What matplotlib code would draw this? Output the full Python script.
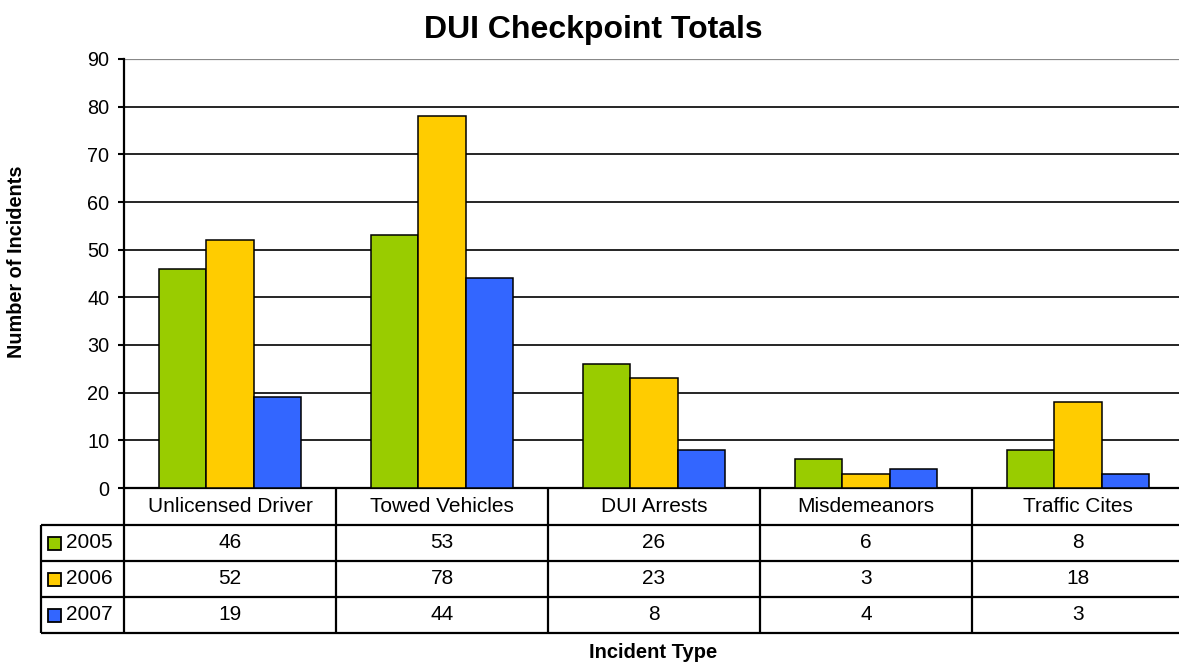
import matplotlib
matplotlib.use('Agg')
import matplotlib.pyplot as plt
import matplotlib.transforms as mtransforms
from matplotlib.patches import Rectangle
import numpy as np

plt.rcParams['font.family'] = ['Liberation Sans', 'DejaVu Sans']

categories = ['Unlicensed Driver', 'Towed Vehicles', 'DUI Arrests', 'Misdemeanors', 'Traffic Cites']
years = ['2005', '2006', '2007']
v2005 = [46, 53, 26, 6, 8]
v2006 = [52, 78, 23, 3, 18]
v2007 = [19, 44, 8, 4, 3]
series = [v2005, v2006, v2007]
colors = ['#99CC00', '#FFCC00', '#3366FF']
yticks = list(range(0, 91, 10))

W, H = 1179, 667
fig = plt.figure(figsize=(W / 100, H / 100), dpi=100)


def fx(px):
    return px / W


def fy(py):
    return 1 - py / H


ax = fig.add_axes([fx(124), fy(488), 1060 / W, 429 / H])

x = np.arange(len(categories))
bw = 0.222
for i, (vals, c) in enumerate(zip(series, colors)):
    ax.bar(x + (i - 1) * bw, vals, bw, color=c, edgecolor='black', linewidth=1.1, zorder=3)

ax.set_xlim(-0.5, len(categories) - 0.5)
ax.set_ylim(0, 90)
ax.set_yticks(yticks)
ax.set_xticks([])
ax.yaxis.grid(True, color='black', lw=1.2)
ax.get_ygridlines()[-1].set_color('#888888')
ax.get_ygridlines()[-1].set_linewidth(1.6)
ax.set_axisbelow(True)
for s in ['top', 'right']:
    ax.spines[s].set_visible(False)
ax.spines['left'].set_linewidth(1.6)
ax.spines['bottom'].set_linewidth(1.6)
ax.tick_params(axis='y', length=4.5, width=1.5, pad=6, labelsize=14.3)

# data table below the axes
line_kw = dict(color='black', lw=1.6, solid_capstyle='butt')
row_lines = [525, 561, 597, 633]
for py in row_lines:
    fig.add_artist(plt.Line2D([fx(41), 1], [fy(py), fy(py)], **line_kw))
fig.add_artist(plt.Line2D([fx(41), fx(41)], [fy(525), fy(633)], **line_kw))
fig.add_artist(plt.Line2D([fx(124), fx(124)], [fy(488), fy(633)], **line_kw))

blend = mtransforms.blended_transform_factory(ax.transData, fig.transFigure)
for b in x[:-1] + 0.5:
    ax.plot([b, b], [fy(488), fy(633)], transform=blend, clip_on=False, **line_kw)

for xi, cat in zip(x, categories):
    ax.text(xi, fy(506), cat, transform=blend, ha='center', va='center', fontsize=15)

row_centers = [543, 579, 615]
for yc, yr, vals, c in zip(row_centers, years, series, colors):
    for xi, v in zip(x, vals):
        ax.text(xi, fy(yc), str(v), transform=blend, ha='center', va='center', fontsize=15)
    fig.add_artist(Rectangle((fx(48), fy(yc + 6.5)), 13 / W, 13 / H, transform=fig.transFigure,
                             facecolor=c, edgecolor='black', lw=1.3))
    fig.text(fx(66), fy(yc), yr, ha='left', va='center', fontsize=15)

fig.text(fx(593), fy(30), 'DUI Checkpoint Totals', ha='center', va='center',
         fontsize=23, fontweight='bold')
fig.text(fx(17), fy(262), 'Number of Incidents', ha='center', va='center',
         rotation=90, fontsize=14.3, fontweight='bold')
fig.text(fx(653), fy(653), 'Incident Type', ha='center', va='center',
         fontsize=14.5, fontweight='bold')

fig.savefig('out.png', dpi=100)
